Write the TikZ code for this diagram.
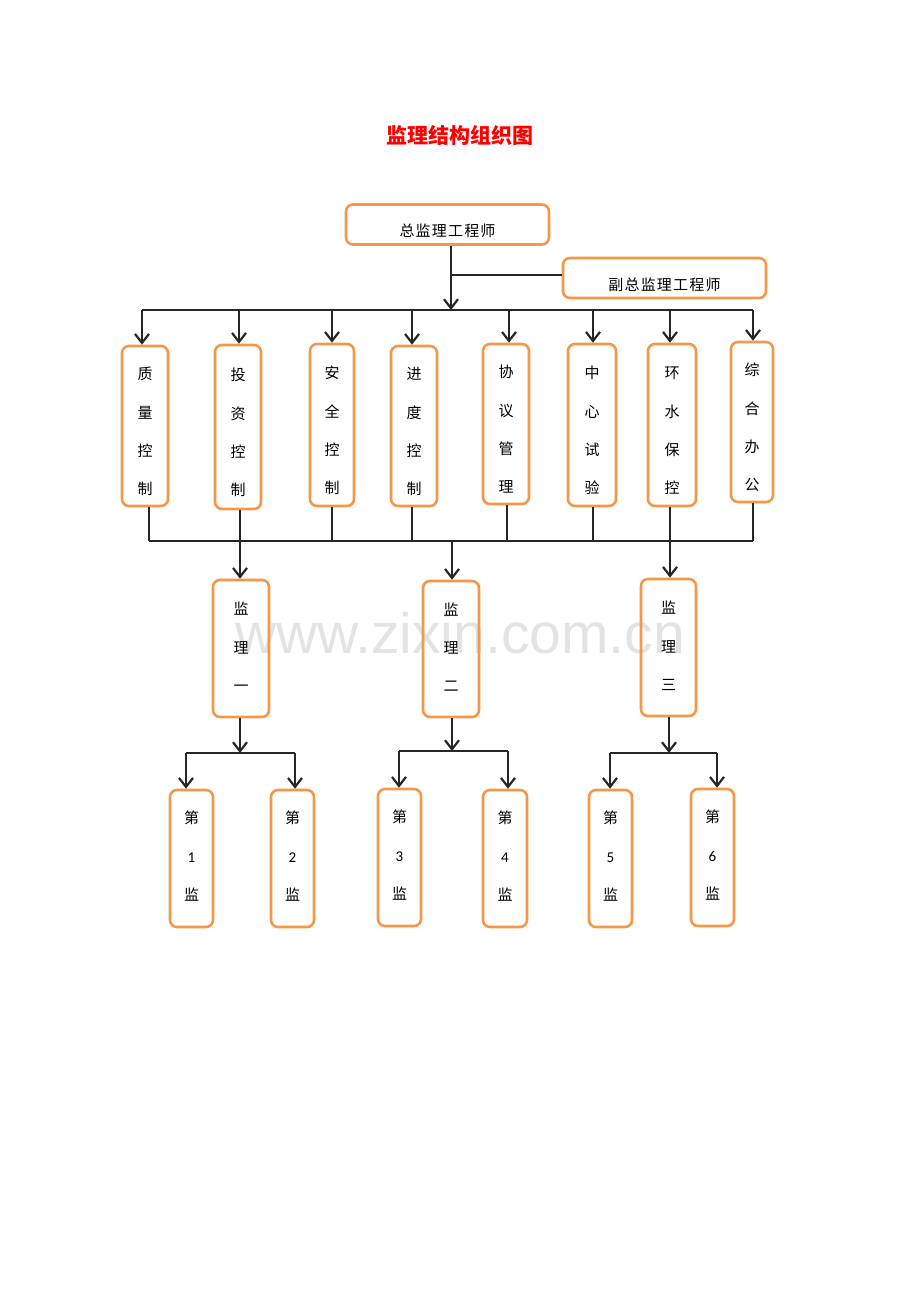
\documentclass[tikz,border=0pt]{standalone}
\usepackage{fontspec}
\usetikzlibrary{arrows.meta}
\newfontfamily\cjk{Noto Sans CJK SC}
\newfontfamily\cjkwide[LetterSpace=8]{Noto Sans CJK SC}
\newfontfamily\lat{Carlito}
\newfontfamily\wmfont{Liberation Sans}
\definecolor{boxorange}{HTML}{F79646}
\definecolor{linegray}{HTML}{262626}
\definecolor{wmgray}{HTML}{E3E3E3}
\newcommand{\vtxt}[2]{\raisebox{#1}[\height][\depth]{\begin{tabular}{@{}c@{}}#2\end{tabular}}}
\newcommand{\htxt}[2]{\raisebox{#1}[\height][\depth]{#2}}
\tikzset{
  box/.style={draw=boxorange, line width=2.6pt, rounded corners=7pt, align=center, inner sep=0pt},
  vbox/.style={box, font=\cjk\fontsize{15}{38.3}\selectfont},
  hbox/.style={box, font=\cjkwide\fontsize{15}{16}\selectfont},
  ln/.style={draw=linegray, line width=2.2pt},
  arr/.style={ln, -{Straight Barb[length=9pt,width=14pt,line width=2.2pt]}},
}
\begin{document}
\begin{tikzpicture}[x=1pt,y=-1pt]
\useasboundingbox (0,0) rectangle (920,1302);
% watermark
\node[font=\wmfont\fontsize{57}{60}\selectfont, text=wmgray, inner sep=0pt] (wm) at (460,633) {www.zixin.com.cn};
% title
\node[font=\cjk\bfseries\fontsize{21}{24}\selectfont, text=red, inner sep=0pt] (title) at (460,135) {监理结构组织图};
% top boxes
\node[hbox, minimum width=203pt, minimum height=40pt] (top) at (447.5,224.5) {\htxt{-6pt}{总监理工程师}};
\node[hbox, minimum width=203pt, minimum height=40pt] (dep) at (664.5,278) {\htxt{-7pt}{副总监理工程师}};
% row of departments
\node[vbox, minimum width=46pt, minimum height=160pt] (d1) at (145,426) {\vtxt{-3.5pt}{质\\量\\控\\制}};
\node[vbox, minimum width=46pt, minimum height=164pt] (d2) at (238,427) {\vtxt{-3.5pt}{投\\资\\控\\制}};
\node[vbox, minimum width=44pt, minimum height=162pt] (d3) at (332,425) {\vtxt{-3.5pt}{安\\全\\控\\制}};
\node[vbox, minimum width=46pt, minimum height=160pt] (d4) at (414,426) {\vtxt{-3.5pt}{进\\度\\控\\制}};
\node[vbox, minimum width=46pt, minimum height=160pt] (d5) at (506,424) {\vtxt{-3.5pt}{协\\议\\管\\理}};
\node[vbox, minimum width=48pt, minimum height=162pt] (d6) at (592,425) {\vtxt{-3.5pt}{中\\心\\试\\验}};
\node[vbox, minimum width=48pt, minimum height=162pt] (d7) at (672,425) {\vtxt{-3.5pt}{环\\水\\保\\控}};
\node[vbox, minimum width=42pt, minimum height=160pt] (d8) at (752,422) {\vtxt{-3.5pt}{综\\合\\办\\公}};
% supervision teams
\node[vbox, minimum width=56pt, minimum height=137pt] (m1) at (241,648.5) {\vtxt{3pt}{监\\理\\一}};
\node[vbox, minimum width=56pt, minimum height=136pt] (m2) at (451,649) {\vtxt{3pt}{监\\理\\二}};
\node[vbox, minimum width=55pt, minimum height=137pt] (m3) at (668.5,647.5) {\vtxt{3pt}{监\\理\\三}};
% bottom
\node[vbox, minimum width=43pt, minimum height=137pt] (s1) at (191.5,858.5) {\vtxt{4pt}{第\\{\lat 1}\\监}};
\node[vbox, minimum width=43pt, minimum height=137pt] (s2) at (292.5,858.5) {\vtxt{4pt}{第\\{\lat 2}\\监}};
\node[vbox, minimum width=43pt, minimum height=137pt] (s3) at (399.5,857.5) {\vtxt{4pt}{第\\{\lat 3}\\监}};
\node[vbox, minimum width=44pt, minimum height=137pt] (s4) at (505,858.5) {\vtxt{4pt}{第\\{\lat 4}\\监}};
\node[vbox, minimum width=43pt, minimum height=137pt] (s5) at (610.5,858.5) {\vtxt{4pt}{第\\{\lat 5}\\监}};
\node[vbox, minimum width=43pt, minimum height=137pt] (s6) at (712.5,857.5) {\vtxt{4pt}{第\\{\lat 6}\\监}};
% bus coordinates
\coordinate (jt) at (451,275);
\coordinate (busL) at (142,310);
\coordinate (busR) at (753,310);
\coordinate (bbL) at (149,541);
\coordinate (bbR) at (753,541);
% top connections
\draw[arr] (top.south -| jt) -- (jt |- busL);
\draw[ln] (jt) -- (jt -| dep.west);
\draw[ln] (busL) -- (busR);
\foreach \n/\x in {d1/142,d2/239,d3/332,d4/412,d5/509,d6/593,d7/670,d8/753}{
  \draw[arr] (\x,310) -- (\x,0 |- \n.north);
}
% bottom connections of departments
\foreach \n/\x in {d1/149,d2/240,d3/332,d4/412,d5/507,d6/593,d7/670,d8/753}{
  \draw[ln] (\x,0 |- \n.south) -- (\x,541);
}
\draw[ln] (bbL) -- (bbR);
\coordinate (c1) at (240,541);
\coordinate (c2) at (452,541);
\coordinate (c3) at (670,541);
\draw[arr] (c1) -- (c1 |- m1.north);
\draw[arr] (c2) -- (c2 |- m2.north);
\draw[arr] (c3) -- (c3 |- m3.north);
% team 1
\coordinate (t1) at (240,753);
\coordinate (a1) at (186,753);
\coordinate (a2) at (295,753);
\draw[arr] (t1 |- m1.south) -- (t1);
\draw[ln] (a1) -- (a2);
\draw[arr] (a1) -- (a1 |- s1.north);
\draw[arr] (a2) -- (a2 |- s2.north);
% team 2
\coordinate (t2) at (452,751);
\coordinate (a3) at (399,751);
\coordinate (a4) at (508,751);
\draw[arr] (t2 |- m2.south) -- (t2);
\draw[ln] (a3) -- (a4);
\draw[arr] (a3) -- (a3 |- s3.north);
\draw[arr] (a4) -- (a4 |- s4.north);
% team 3
\coordinate (t3) at (669,753);
\coordinate (a5) at (610,753);
\coordinate (a6) at (717,753);
\draw[arr] (t3 |- m3.south) -- (t3);
\draw[ln] (a5) -- (a6);
\draw[arr] (a5) -- (a5 |- s5.north);
\draw[arr] (a6) -- (a6 |- s6.north);
\end{tikzpicture}
\end{document}
